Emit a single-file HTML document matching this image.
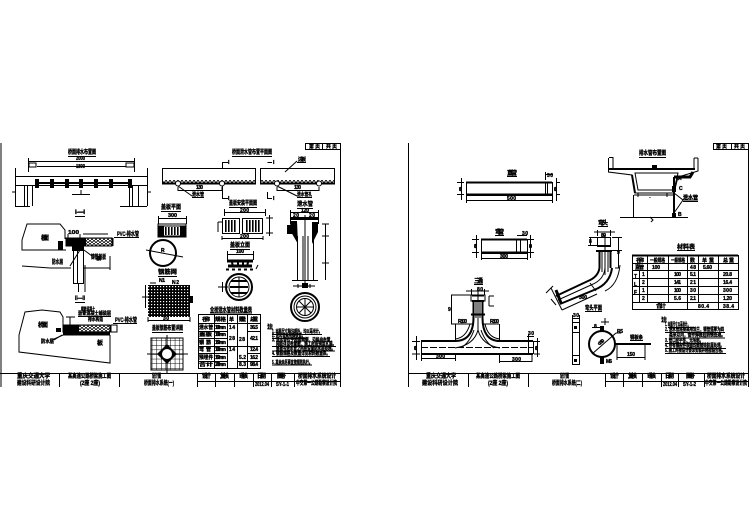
<!DOCTYPE html>
<html lang="zh"><head><meta charset="utf-8"><title>桥面排水系统设计图</title>
<style>
html,body{margin:0;padding:0;background:#fff}
svg{display:block}
.l{fill:none;stroke:#000;stroke-width:1}
.t{stroke:#000;stroke-width:2;fill:none}
.m{stroke:#000;stroke-width:3;fill:none}
.f{fill:#000;stroke:none}
text{font-family:"Liberation Sans","Noto Sans CJK SC",sans-serif;font-weight:700;font-size:6px;fill:#000;stroke:#000;stroke-width:.35}
.s{font-size:5px}
</style></head><body>
<svg width="749" height="530" viewBox="0 0 749 530" xmlns="http://www.w3.org/2000/svg">
<defs>
<pattern id="g" width="3" height="3" patternUnits="userSpaceOnUse"><rect width="3" height="3" fill="#000"/><rect x="1" y="1" width="1.2" height="1.2" fill="#fff"/></pattern>
<pattern id="h" width="4" height="3" patternUnits="userSpaceOnUse"><rect width="4" height="3" fill="#fff"/><path d="M0 3L2 0L4 3" stroke="#000" stroke-width=".9" fill="none"/></pattern>
<pattern id="g2" width="4.6" height="4.6" patternUnits="userSpaceOnUse"><path d="M0 0H4.6M0 0V4.6" stroke="#000" stroke-width="1" fill="none"/></pattern>
<pattern id="b" width="3" height="10" patternUnits="userSpaceOnUse"><rect width="1.6" height="10" fill="#000"/></pattern>
</defs>
<rect width="749" height="530" fill="#fff"/>

<!-- LEFT SHEET FRAME -->
<path class="l" d="M1 143V387M340.5 143V387M0 373.5H340.5M59.5 373V387M119.5 373V387M197.5 373V387M215.5 373V387M234.5 373V387M253.5 373V387M271.5 373V387M294.5 373V387M197 381.5H340M305.5 143V149M322.5 143V149M305 149.5H340M305 143.5H340"/>
<text x="309" y="148" class="s" textLength="11" lengthAdjust="spacingAndGlyphs">第 页</text>
<text x="326" y="148" class="s" textLength="11" lengthAdjust="spacingAndGlyphs">共 页</text>
<text x="17" y="378" textLength="33" lengthAdjust="spacingAndGlyphs">重庆交通大学</text>
<text x="17" y="385" textLength="33" lengthAdjust="spacingAndGlyphs">建设科研设计院</text>
<text x="68" y="378" textLength="43" lengthAdjust="spacingAndGlyphs">某高速公路桥梁施工图</text>
<text x="80" y="385" textLength="20" lengthAdjust="spacingAndGlyphs">(2座 2座)</text>
<text x="152" y="378" textLength="9" lengthAdjust="spacingAndGlyphs">设计图</text>
<text x="144" y="385" textLength="30" lengthAdjust="spacingAndGlyphs">桥面排水系统(一)</text>
<text x="202" y="378" textLength="9">设计</text><text x="220" y="378" textLength="9">复核</text><text x="239" y="378" textLength="9">审核</text><text x="257" y="378" textLength="9">日期</text><text x="277" y="378" textLength="9">图号</text>
<text x="298" y="378" textLength="38" lengthAdjust="spacingAndGlyphs">桥面排水系统设计</text>
<text x="296" y="385" textLength="41" lengthAdjust="spacingAndGlyphs">中交第一公路勘察设计院</text>
<text x="255" y="386" class="s" textLength="14" lengthAdjust="spacingAndGlyphs">2012.04</text>
<text x="276" y="386" class="s" textLength="13" lengthAdjust="spacingAndGlyphs">SY-1-1</text>

<!-- elevation -->
<text x="68" y="154" textLength="28" lengthAdjust="spacingAndGlyphs">桥面排水布置图</text><path class="l" d="M68 156.5H96"/>
<text x="76" y="160" class="s" textLength="9" lengthAdjust="spacingAndGlyphs">2000</text>
<path class="l" d="M28.5 161.5H134.5M28.5 158V172M134.5 158V172M37 166.5H126"/>
<rect x="29" y="163" width="7" height="4" class="l"/><rect x="126" y="163" width="8" height="4" class="l"/>
<text x="76" y="168" class="s" textLength="9" lengthAdjust="spacingAndGlyphs">1800</text>
<path class="l" d="M15.5 168V206M147.5 168V206M15 176.5H147M15 185.5H147M15 206.5H30M120 206.5H147M24.5 185V206M27.5 185V206M32.5 185V206M129.5 185V206M132.5 185V206M138.5 185V206M12 192H15M147 192H151M72 194.5H90M81 190V194M78 212H84"/>
<path class="t" d="M37 183H130"/>
<g class="f"><rect x="35" y="179" width="4" height="9"/><rect x="50" y="179" width="4" height="9"/><rect x="65" y="179" width="4" height="9"/><rect x="79" y="179" width="4" height="9"/><rect x="94" y="179" width="4" height="9"/><rect x="109" y="179" width="4" height="9"/><rect x="128" y="179" width="4" height="9"/></g>
<text x="75" y="214" textLength="10" lengthAdjust="spacingAndGlyphs">I—I</text><path class="l" d="M75 216.5H85"/>

<!-- detail I -->
<path class="l" d="M22 240L27 224H60L65 230V239M22 240V250H66M22 266L50 268H71M84 268H110M110 256V270M73.5 250V283M77.5 250V283M83.5 250V283M78.5 283V292M73 283.5H84M83 234H108M68 234V238M80 234V238M80 250L70 266M84 250L92 256"/>
<rect x="66" y="238" width="46" height="8" fill="url(#h)" stroke="#000"/>
<rect x="66" y="238" width="20" height="8" class="f"/>
<rect x="72" y="246" width="12" height="5" class="f"/>
<rect x="58" y="241" width="5" height="9" class="f"/>
<text x="41" y="240" textLength="8">桥 面</text><text x="96" y="260" class="s" textLength="8">板</text>
<text x="68" y="234" class="s" textLength="11" lengthAdjust="spacingAndGlyphs">100</text>
<text x="117" y="236" textLength="22" lengthAdjust="spacingAndGlyphs">PVC-排水管</text><path class="l" d="M114 237.5H139M113 238V246"/>
<text x="52" y="264" textLength="11" lengthAdjust="spacingAndGlyphs">防水层</text>
<text x="91" y="259" textLength="15" lengthAdjust="spacingAndGlyphs">铸铁盖板</text>

<!-- detail II -->
<text x="75" y="300" textLength="10" lengthAdjust="spacingAndGlyphs">II—II</text><path class="l" d="M75 302.5H85M85 265V292"/>
<path class="l" d="M19 335L25 312L42 310L60 312L63 317V325M19 335V352L110 363V335M111 325V332H117V325H111M63 335L52 340"/>
<rect x="63" y="325" width="47" height="7" fill="url(#h)" stroke="#000"/>
<rect x="63" y="325" width="16" height="7" class="f"/><rect x="63" y="332" width="47" height="3.5" class="f"/>
<rect x="56" y="328" width="5" height="4" class="f"/>
<text x="38" y="327" textLength="10">桥 面</text><text x="97" y="345" textLength="8">板</text>
<text x="81" y="311" class="s" textLength="14" lengthAdjust="spacingAndGlyphs">钢筋混凝土</text>
<text x="78" y="315" class="s" textLength="33" lengthAdjust="spacingAndGlyphs">沥青混凝土铺装层</text><path class="l" d="M78 316.5H111"/>
<text x="88" y="321" class="s" textLength="15" lengthAdjust="spacingAndGlyphs">排水构造</text>
<text x="115" y="322" textLength="22" lengthAdjust="spacingAndGlyphs">PVC-排水管</text><path class="l" d="M113 323.5H137"/>
<text x="41" y="343" class="s" textLength="13" lengthAdjust="spacingAndGlyphs">防水层</text><path class="l" d="M54 340L62 335M66 317H75M70 317V325"/>

<!-- grates / plates -->
<text x="161" y="209" textLength="20" lengthAdjust="spacingAndGlyphs">盖板平面</text><path class="l" d="M161 211.5H181M158.5 216V224M186.5 216V224M158 218.5H186"/>
<text x="168" y="217" class="s" textLength="9" lengthAdjust="spacingAndGlyphs">300</text>
<rect x="158" y="224" width="28" height="13" class="l"/>
<rect x="159" y="226" width="26" height="10" fill="#fff" stroke="#000"/><rect x="159" y="226" width="5" height="10" class="f"/><rect x="180" y="226" width="5" height="10" class="f"/><rect x="165" y="227" width="14" height="8" fill="url(#b)"/>
<circle cx="163" cy="253" r="13" fill="#fff" stroke="#000" stroke-width="2"/><path class="l" d="M146 250L183 257"/><text x="161" y="252" class="s" textLength="6">R</text>
<text x="158" y="274" textLength="19" lengthAdjust="spacingAndGlyphs">钢筋网</text><path class="l" d="M158 276.5H177"/>
<rect x="148" y="285" width="42" height="32" fill="url(#g)"/>
<path class="l" d="M148 320.5H190M148 317V322M190 317V322M145.5 285V308M142 297H149M150 283H156"/>
<text x="159" y="282" class="s" textLength="6">N1</text><text x="172" y="284" class="s" textLength="7">N2</text><text x="163" y="320" class="s" textLength="6">30</text>
<rect x="190" y="296" width="3" height="7" class="f"/>
<text x="152" y="330" textLength="31" lengthAdjust="spacingAndGlyphs">盖板钢筋布置详图</text><path class="l" d="M152 332.5H183"/>
<rect x="151" y="338" width="32" height="32" fill="url(#g2)" stroke="#000"/>
<path class="l" d="M167 335V373M147 354H188"/>
<path class="f" d="M167 344L177 354L167 364L157 354Z"/><circle cx="167" cy="354" r="5.5" fill="#fff" stroke="#000"/>

<!-- top slab plan -->
<text x="232" y="154" textLength="40" lengthAdjust="spacingAndGlyphs">桥面泄水管布置平面图</text><path class="l" d="M232 156.5H272"/>
<rect x="162.500" y="168.500" width="93" height="15" class="l"/><rect x="260.500" y="168.500" width="74" height="15" class="l"/>
<rect x="163" y="180" width="92" height="3" fill="url(#h)"/><rect x="261" y="180" width="73" height="3" fill="url(#h)"/>
<path class="t" d="M162 183.500H256M260 183.500H335"/>
<g fill="#fff" stroke="#000"><circle cx="178" cy="183.500" r="2.500"/><circle cx="222" cy="183.500" r="2.500"/><circle cx="277" cy="183.500" r="2.500"/><circle cx="319" cy="183.500" r="2.500"/></g>
<path class="l" d="M178 187V191M222 187V191M277 187V191M319 187V191M178 190.500H222M277 190.500H319M178 186L192 196M277 186L297 196M192 197.500H204M297 197.500H312M222.500 162V168M222.500 186V198M222 162.500H228M222 198.500H228M267.500 162.500H272M267.500 192V198M267 198.500H272M285 172L297 161M297 162.500H306"/>
<text x="196" y="189" class="s" textLength="7">130</text><text x="294" y="189" class="s" textLength="7">130</text>
<text x="192" y="196" class="s" textLength="12" lengthAdjust="spacingAndGlyphs">泄水管</text><text x="297" y="196" class="s" textLength="15" lengthAdjust="spacingAndGlyphs">泄水管孔</text><text x="298" y="161" class="s" textLength="8">边板</text>
<text x="228" y="164" class="s" textLength="3">I</text><text x="273" y="164" class="s" textLength="3">I</text><text x="228" y="200" class="s" textLength="3">I</text><text x="273" y="200" class="s" textLength="3">I</text>

<!-- two grate -->
<text x="229" y="205" textLength="28" lengthAdjust="spacingAndGlyphs">盖板安装平面图</text><path class="l" d="M229 207.500H257"/>
<path class="l" d="M224 212.500H265M224.500 209V216M265.500 209V216M222 236V240M263 236V240M222 238.500H263M269.500 215V236M266 218H273M266 233H273"/>
<text x="240" y="212" class="s" textLength="9">200</text><text x="240" y="238" class="s" textLength="9">200</text>
<rect x="222.500" y="218.500" width="17" height="15" class="l"/><rect x="242.500" y="218.500" width="20" height="15" class="l"/>
<rect x="225" y="220" width="12" height="12" fill="url(#b)"/><rect x="245" y="220" width="15" height="12" fill="url(#b)"/>
<path class="l" d="M218 222H222M218 222V232"/>
<text x="230" y="247" textLength="20" lengthAdjust="spacingAndGlyphs">盖板立面</text><path class="l" d="M230 249.500H250"/>
<path class="l" d="M227 254.500H253M227.500 251V260M253.500 251V260"/><text x="236" y="253" class="s" textLength="8">100</text>
<path class="m" d="M227 261H253M228 266H252"/><path class="t" d="M232 262L233 267M248 262L247 267M238 262V267M243 262V267"/>
<path class="t" stroke-dasharray="3 3" d="M226 269.500H256"/><path class="l" d="M256 269L258 265"/>
<circle cx="239" cy="287" r="13" fill="#fff" stroke="#000" stroke-width="2"/><circle cx="239" cy="287" r="10" fill="#fff" stroke="#000"/>
<path class="t" d="M231 281H247M230 287H248M231 293H247"/><path class="l" d="M239 277V297M218 287H228M222.500 282V292"/>

<!-- pipe section -->
<text x="297" y="206" textLength="16" lengthAdjust="spacingAndGlyphs">泄水管</text><path class="l" d="M297 208.500H313M290 212.500H318M290 217.500H318M290.500 210V224M318.500 210V224"/>
<text x="301" y="212" class="s" textLength="8">120</text><text x="293" y="217" class="s" textLength="6">20</text><text x="309" y="217" class="s" textLength="6">20</text>
<path class="t" d="M290 219H318"/>
<path class="f" d="M290 221H297L298 244L291 232Z"/><path class="f" d="M318 222L312 222L312 244L318 232Z"/>
<path class="l" d="M297.500 236V280M313.500 236V280M305 215V288M303 236V280M308 236V280M292 280.500H318M325.500 224V280M322 224H329M322 236H329M322 263H329"/>
<rect x="287" y="225" width="5" height="9" class="f"/>
<path class="l" d="M293 286H315M298 284V288M310 284V288"/><rect x="302" y="283" width="6" height="5" class="f"/>
<circle cx="305" cy="307" r="14" fill="#fff" stroke="#000" stroke-width="2"/><circle cx="305" cy="307" r="11" fill="none" stroke="#000"/><circle cx="305" cy="307" r="8.500" fill="none" stroke="#000"/>
<path class="l" d="M297 307H313M305 299V315M299 301L311 313M311 301L299 313"/>

<!-- table left -->
<text x="210" y="312" textLength="42" lengthAdjust="spacingAndGlyphs">全桥泄水管材料数量表</text><path class="l" d="M210 313H252"/>
<path class="l" d="M198.500 314.500H260.500V368.500H198.500ZM214.500 314V368M227.500 314V368M237.500 314V368M247.500 314V368M198 323.500H260M198 331.500H227M247 331.500H260M198 338.500H227M198 346.500H260M198 353.500H227M247 353.500H260M198 361.500H227M237 361.500H260"/>
<text x="202" y="321" class="s" textLength="8">名 称</text><text x="215" y="321" class="s" textLength="11" lengthAdjust="spacingAndGlyphs">规格</text><text x="229" y="321" class="s" textLength="7">单</text><text x="239" y="321" class="s" textLength="7">数量</text><text x="250" y="321" class="s" textLength="8">总重</text>
<text x="199" y="329" class="s" textLength="14" lengthAdjust="spacingAndGlyphs">泄水管</text><text x="199" y="336" class="s" textLength="13" lengthAdjust="spacingAndGlyphs">盖板</text><text x="199" y="344" class="s" textLength="12">钢筋</text><text x="199" y="351" class="s" textLength="12">弯管</text><text x="199" y="359" class="s" textLength="14" lengthAdjust="spacingAndGlyphs">预埋件</text><text x="199" y="366" class="s" textLength="14" lengthAdjust="spacingAndGlyphs">合计</text>
<text x="215" y="329" class="s" textLength="11">100mm</text><text x="215" y="336" class="s" textLength="11">100mm</text><text x="215" y="344" class="s" textLength="11">150mm</text><text x="215" y="351" class="s" textLength="11">100mm</text><text x="215" y="359" class="s" textLength="11">150mm</text><text x="215" y="366" class="s" textLength="11">200mm</text>
<text x="229" y="329" class="s" textLength="6">14</text><text x="229" y="340" class="s" textLength="6">28</text><text x="229" y="351" class="s" textLength="6">14</text><text x="239" y="341" class="s" textLength="6">28</text>
<text x="250" y="329" class="s" textLength="8">36.5</text><text x="250" y="340" class="s" textLength="8">42.1</text><text x="250" y="351" class="s" textLength="8">12.4</text><text x="250" y="359" class="s" textLength="8">16.2</text><text x="250" y="366" class="s" textLength="8">98.4</text><text x="239" y="359" class="s" textLength="7">5.2</text><text x="239" y="366" class="s" textLength="7">8.3</text>

<!-- notes left -->
<text x="267" y="329" textLength="6">注：</text>
<text x="272" y="333" class="s" textLength="50" lengthAdjust="spacingAndGlyphs">1. 本图尺寸除注明外，均以毫米计。</text>
<text x="272" y="337" class="s" textLength="33" lengthAdjust="spacingAndGlyphs">2. 泄水管采用铸铁管。</text>
<text x="272" y="341.500" class="s" textLength="62" lengthAdjust="spacingAndGlyphs">3. 泄水管位于桥面两侧，沿纵向布置，</text>
<text x="276" y="345.500" class="s" textLength="60" lengthAdjust="spacingAndGlyphs">间距详见布置图，施工时应预留孔洞。</text>
<text x="276" y="350" class="s" textLength="59" lengthAdjust="spacingAndGlyphs">盖板与泄水管之间应设置防水层处理。</text>
<text x="272" y="355" class="s" textLength="58" lengthAdjust="spacingAndGlyphs">4. 钢筋规格及数量详见材料数量表。</text>
<text x="272" y="364" class="s" textLength="40" lengthAdjust="spacingAndGlyphs">5. 其余未尽事宜按规范执行。</text>
<path class="l" d="M272 334.500H322M272 338.500H306M272 346.500H336M272 351H335M272 356.500H330M272 365H312"/>

<!-- RIGHT SHEET FRAME -->
<path class="l" d="M408.500 143V387M748.500 143V387M408 373.500H749M468.500 373V387M528.500 373V387M605.500 373V387M623.500 373V387M642.500 373V387M661.500 373V387M678.500 373V387M704.500 373V387M605 381.500H749M713.500 143V149M731.500 143V149M713 149.500H749M713 143.500H749"/>
<text x="716" y="148" class="s" textLength="11" lengthAdjust="spacingAndGlyphs">第 页</text><text x="734" y="148" class="s" textLength="11" lengthAdjust="spacingAndGlyphs">共 页</text>
<text x="426" y="378" textLength="30" lengthAdjust="spacingAndGlyphs">重庆交通大学</text>
<text x="422" y="385" textLength="36" lengthAdjust="spacingAndGlyphs">建设科研设计院</text>
<text x="476" y="378" textLength="44" lengthAdjust="spacingAndGlyphs">某高速公路桥梁施工图</text>
<text x="488" y="385" textLength="20" lengthAdjust="spacingAndGlyphs">(2座 2座)</text>
<text x="560" y="378" textLength="9" lengthAdjust="spacingAndGlyphs">设计图</text>
<text x="552" y="385" textLength="30" lengthAdjust="spacingAndGlyphs">桥面排水系统(二)</text>
<text x="610" y="378" textLength="9">设计</text><text x="628" y="378" textLength="9">复核</text><text x="647" y="378" textLength="9">审核</text><text x="665" y="378" textLength="9">日期</text><text x="686" y="378" textLength="9">图号</text>
<text x="707" y="378" textLength="38" lengthAdjust="spacingAndGlyphs">桥面排水系统设计</text>
<text x="705" y="385" textLength="42" lengthAdjust="spacingAndGlyphs">中交第一公路勘察设计院</text>
<text x="663" y="386" class="s" textLength="14" lengthAdjust="spacingAndGlyphs">2012.04</text>
<text x="683" y="386" class="s" textLength="13" lengthAdjust="spacingAndGlyphs">SY-1-2</text>

<!-- straight pipes -->
<text x="507" y="175" textLength="10">直管</text><path class="l" d="M507 176.500H517"/>
<rect x="466.500" y="182.500" width="86" height="13" class="l"/><path class="t" d="M466 182.500H552M466 194.500H552"/><path class="l" d="M545.500 182V195M547.500 182V195M545 174.500H553M545.500 172V180M461.500 178V200M457 182.500H464M457 194.500H464M466.500 195V203M552.500 195V203M466 200.500H552M556 182.500H560M556 194.500H560M556.500 178V201"/>
<text x="507" y="200" class="s" textLength="9">500</text><text x="547" y="177" class="s" textLength="6">30</text><text x="459" y="191" class="s" textLength="3">80</text><text x="554" y="191" class="s" textLength="3">80</text>
<text x="495" y="234" textLength="9">弯管</text><path class="l" d="M495 235.500H504"/>
<rect x="481.500" y="239.500" width="46" height="14" class="l"/><path class="t" d="M481 239.500H527M481 252.500H527"/><path class="l" d="M520.500 239V253M516.500 239V253M517 235.500H527M476.500 235V258M472 239.500H479M472 252.500H479M481.500 253V260M527.500 253V260M481 258.500H527M530.500 235V258M527 239.500H534M527 252.500H534"/>
<text x="500" y="258" class="s" textLength="8">300</text><text x="522" y="235" class="s" textLength="6">30</text><text x="474" y="248" class="s" textLength="3">80</text><text x="529" y="248" class="s" textLength="3">80</text>

<!-- T pipe -->
<text x="474" y="283" textLength="9">三通</text><path class="l" d="M474 284.500H483"/>
<path class="l" d="M466 291H471M471.500 289V295M484.500 289V295M484 291H489M471 291H484M451.500 295V324M451 295H471M451 324H455M455.500 324V342M499.500 324V342M455 324H473M482 324H499M489 296V306M489 296H494M489 306H494"/>
<rect x="471" y="295" width="14" height="6" class="l"/>
<path class="t" d="M473.500 300V317M482.500 300V317M472 295.500H484M472 301H484M471 314.500H485"/>
<path class="l" d="M476 302V318M480 302V318M478 290V330"/>
<path class="t" d="M473.500 316Q474 341 455 341H421M482.500 316Q482 341 500 341H533"/>
<path class="t" d="M421 354H533"/>
<path class="l" d="M478 330Q474 345 455 348M478 330Q482 345 500 348M421.500 341V354M528.500 341V354M533.500 341V354"/>
<path class="l" stroke-dasharray="7 2" d="M421 347.500H533"/>
<path class="l" d="M455 339Q466 338 470 324M500 339Q488 338 485 324M461 348Q470 342 474 330M494 348Q485 342 481 330"/>
<path class="l" d="M416.500 336V360M412 341.500H420M412 354H420M421.500 354V361M455.500 354V361M421 358.500H455M499.500 354V363M532 354V362M500 361.500H532M527 336.500H534M528.500 334V341M537.500 338V357M534 341.500H540M534 354H540"/>
<text x="436" y="358" class="s" textLength="9">300</text><text x="512" y="361" class="s" textLength="9">300</text><text x="448" y="311" class="s" textLength="4">9</text>
<text x="458" y="323" class="s" textLength="9">R100</text><text x="490" y="323" class="s" textLength="9">R100</text><text x="477" y="291" class="s" textLength="6">80</text><text x="414" y="350" class="s" textLength="3">80</text><text x="535" y="350" class="s" textLength="3">80</text><text x="528" y="335" class="s" textLength="6">30</text>

<!-- elbow -->
<text x="598" y="225" textLength="10">弯头</text><path class="l" d="M598 226.500H608"/>
<path class="l" d="M594 232H597M597.500 230V236M610.500 230V236M610 232H615M597 232H610M589 237.500H597M590.500 237V245M588 245.500H597M618.500 237V268M612 237.500H622M612 250.500H622"/>
<rect x="597.500" y="237.500" width="13" height="8" class="l"/>
<path class="t" d="M597 246H611M596 251H612M599.500 251V268M610.500 251V268"/>
<path class="l" d="M602 251V272M605 235V275M608 251V272"/>
<path class="t" d="M556 296L588 281Q598 277 599.500 268M560 304L594 290Q610 284 612 268"/>
<path class="l" d="M558 300L591 285Q604 280 605 268M620 265Q618 285 605 291M615 268H620M590 283L596 291"/>
<path class="m" d="M556 290L561 303"/>
<path class="l" d="M551 288L556 298L562 310M562 310L597 294M553 286L546 293M551 299L556 305"/>
<text x="579" y="299" class="s" textLength="8">300</text><text x="601" y="237" class="s" textLength="5">80</text><text x="589" y="243" class="s" textLength="4">8</text><text x="617" y="254" class="s" textLength="4">9</text>
<text x="585" y="310" textLength="17" lengthAdjust="spacingAndGlyphs">弯头平面</text><path class="l" d="M585 311.500H602"/>

<!-- plate & ring -->
<rect x="572.500" y="322.500" width="7" height="42" class="l"/><path class="l" d="M572 332.500H580M572 355.500H580M572.500 315V322M579.500 315V322M572 318.500H580"/>
<rect x="574" y="326" width="3" height="3" class="f"/><rect x="574" y="359" width="3" height="3" class="f"/>
<text x="573" y="317" class="s" textLength="6">30</text>
<circle cx="602" cy="344" r="13" fill="#fff" stroke="#000" stroke-width="2"/>
<path class="l" d="M592 354L616 333M605 318V325M601 322H609M592 327.500H600M617 345V360M645 345V360M617 357.500H645M616 333H621"/>
<path class="t" d="M615 344H651"/>
<rect x="600" y="326" width="4" height="6" class="f"/><rect x="600" y="357" width="4" height="7" class="f"/>
<path class="l" d="M630 340.500H643"/>
<text x="630" y="339" class="s" textLength="13" lengthAdjust="spacingAndGlyphs">钢板条</text><text x="627" y="356" class="s" textLength="8">150</text><text x="617" y="333" class="s" textLength="6">R5</text><text x="606" y="363" class="s" textLength="6">M6</text><text x="598" y="344" class="s" textLength="7" transform="rotate(-40 601 343)">Φ50</text><text x="594" y="328" class="s" textLength="5">8</text>

<!-- cross section -->
<text x="639" y="155" textLength="27" lengthAdjust="spacingAndGlyphs">排水管布置图</text><path class="l" d="M639 157.500H666"/>
<path class="l" d="M609 157.500H613V168M608.500 158V172L632 175L635 193H674L678 177L698 171V158M694 158H698M694 170V158"/>
<path class="t" d="M608 169H695M632 175L635 193"/>
<path class="l" d="M635 173H678L674 190H638ZM634 195H674M633.500 195V217M620 217.500H688M650 217L653 220L651 222M650 198V197M638 197V193M667 197V193"/>
<path class="t" d="M674 177V217"/><path class="m" d="M674 177H690L693 172"/>
<rect x="652" y="165" width="5" height="4" class="f"/>
<path class="l" d="M674 193L683 200L674 213M683 200H698M698 200"/>
<text x="683" y="199" class="s" textLength="15" lengthAdjust="spacingAndGlyphs">泄水管</text><path class="l" d="M683 201.500H698"/>
<rect x="672" y="186" width="4" height="6" class="f"/><rect x="672" y="213" width="4" height="5" class="f"/>
<text x="678" y="180" class="s" textLength="4">A</text><text x="679" y="190" class="s" textLength="3">C</text><text x="678" y="216" class="s" textLength="4">B</text>

<!-- table right -->
<text x="677" y="249" textLength="18" lengthAdjust="spacingAndGlyphs">材料表</text><path class="l" d="M677 250.500H695"/>
<path class="l" d="M632.500 255.500H738.500V309.500H632.500ZM632 263.500H738M632 270.500H738M632 278.500H738M632 286.500H738M632 294.500H738M632 302.500H738M647.500 255V270M668.500 255V302M687.500 255V309M698.500 255V302M718.500 255V309M738.500 255V309M639.500 270V302M647.500 270V302"/>
<path class="t" d="M632 255.500H738"/>
<text x="636" y="262" class="s" textLength="8">名 称</text><text x="650" y="262" class="s" textLength="15" lengthAdjust="spacingAndGlyphs">一般规格</text><text x="671" y="262" class="s" textLength="14" lengthAdjust="spacingAndGlyphs">一般规格</text><text x="690" y="262" class="s" textLength="6">数</text><text x="702" y="262" class="s" textLength="12">单重</text><text x="723" y="262" class="s" textLength="11">总重</text>
<text x="635" y="269" class="s" textLength="9">直管</text><text x="652" y="269" class="s" textLength="8">100</text><text x="690" y="269" class="s" textLength="6">48</text><text x="703" y="269" class="s" textLength="9">5.60</text>
<text x="634" y="278" class="s" textLength="4">T</text><text x="634" y="286" class="s" textLength="4">L</text><text x="634" y="294" class="s" textLength="4">F</text>
<text x="642" y="276" class="s" textLength="3">1</text><text x="642" y="284" class="s" textLength="3">2</text><text x="642" y="292" class="s" textLength="3">1</text><text x="642" y="300" class="s" textLength="3">2</text>
<text x="674" y="276" class="s" textLength="7">100</text><text x="674" y="284" class="s" textLength="7">141</text><text x="674" y="292" class="s" textLength="7">100</text><text x="674" y="300" class="s" textLength="7">5.6</text>
<text x="690" y="276" class="s" textLength="6">5.1</text><text x="690" y="284" class="s" textLength="6">21</text><text x="690" y="292" class="s" textLength="6">30</text><text x="690" y="300" class="s" textLength="6">2.1</text>
<text x="723" y="276" class="s" textLength="9">20.8</text><text x="723" y="284" class="s" textLength="9">16.4</text><text x="723" y="292" class="s" textLength="9">300</text><text x="723" y="300" class="s" textLength="9">1.20</text>
<text x="656" y="308" textLength="10">合 计</text><text x="698" y="308" class="s" textLength="11">80.4</text><text x="723" y="308" class="s" textLength="11">38.4</text>

<!-- notes right -->
<text x="661" y="322" textLength="6">注：</text>
<text x="665" y="326" class="s" textLength="25" lengthAdjust="spacingAndGlyphs">1. 本图尺寸以毫米计。</text><path class="l" d="M668 327.500H695"/>
<text x="665" y="331" class="s" textLength="59" lengthAdjust="spacingAndGlyphs">2. 泄水管连接采用法兰，钢管壁厚为四</text><path class="l" d="M665 332.500H725"/>
<text x="669" y="336.500" class="s" textLength="56" lengthAdjust="spacingAndGlyphs">毫米以内，管件焊接后防锈处理。</text><path class="l" d="M669 338H725"/>
<text x="665" y="342" class="s" textLength="38" lengthAdjust="spacingAndGlyphs">3. 管口应平整，无毛刺。</text><path class="l" d="M665 343.500H703"/>
<text x="665" y="347" class="s" textLength="59" lengthAdjust="spacingAndGlyphs">4. 所有钢构件表面均需镀锌防腐处理。</text><path class="l" d="M665 348.500H726"/>
<text x="665" y="352" class="s" textLength="60" lengthAdjust="spacingAndGlyphs">5. 施工时按设计要求安装并经检验合格。</text><path class="l" d="M665 353.500H726"/>
</svg>
</body></html>
